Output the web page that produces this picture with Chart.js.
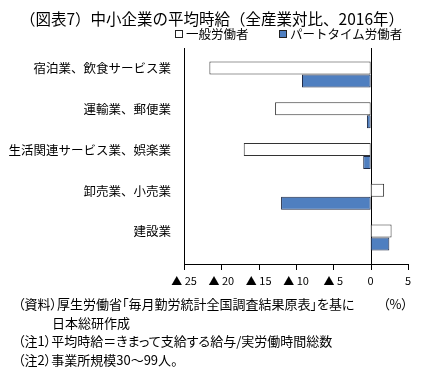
<!DOCTYPE html>
<html lang="ja">
<head>
<meta charset="utf-8">
<script src="https://cdn.jsdelivr.net/npm/chart.js@4/dist/chart.umd.min.js"></script>
<style>
  body { margin: 0; background: #fff; }
  #wrap { position: relative; width: 424px; height: 367px; font-family: 'Noto Sans CJK JP', sans-serif; color: #000; }
  #chart { position: absolute; left: 0; top: 0; }
  .title { position: absolute; left: 0; top: 7px; width: 424px; text-align: center; font-size: 15.5px; line-height: 22px; }
  .legend { position: absolute; top: 26px; font-size: 12.5px; line-height: 16px; white-space: nowrap; }
  .legend i { display: inline-block; width: 6px; height: 6px; border: 1px solid #222; margin-right: 3px; vertical-align: 1px; }
  .notes { position: absolute; left: 18px; top: 295px; font-size: 13px; line-height: 18.5px; white-space: nowrap; font-feature-settings: "palt"; }
  .unit { position: absolute; left: 383px; top: 295px; font-size: 13px; line-height: 18.5px; font-feature-settings: "palt"; }
</style>
</head>
<body>
<div id="wrap">
  <canvas id="chart" width="424" height="367"></canvas>
  <div class="title">（図表7）中小企業の平均時給（全産業対比、2016年）</div>
  <div class="legend" style="left:175px"><i style="background:#fff"></i>一般労働者</div>
  <div class="legend" style="left:279px"><i style="background:#4f7fc0"></i>パートタイム労働者</div>
  <div class="notes">
    <div>（資料）厚生労働省「毎月勤労統計全国調査結果原表」を基に</div>
    <div style="padding-left:34px">日本総研作成</div>
    <div>（注1）平均時給＝きまって支給する給与/実労働時間総数</div>
    <div>（注2）事業所規模30～99人。</div>
  </div>
  <div class="unit">（%）</div>
</div>
<script>
const categories = ['宿泊業、飲食サービス業', '運輸業、郵便業', '生活関連サービス業、娯楽業', '卸売業、小売業', '建設業']
const generalWorkers = [-21.6, -12.8, -17.0, 1.8, 2.8]
const partTimeWorkers = [-9.2, -0.5, -1.0, -12.0, 2.5]
const xTicks = [-25, -20, -15, -10, -5, 0, 5]

// bars sit on a linear index axis so the extra space above/below the groups can match
const toPoints = arr => arr.map((v, i) => ({ x: v, y: i }))

// axis lines, zero line and tick marks, placed from the scales (filled, not stroked)
const axisLines = {
  id: 'axisLines',
  beforeDatasetsDraw(chart) {
    const { ctx, chartArea: a, scales: { x } } = chart
    const h = a.bottom - a.top
    ctx.save()
    ctx.fillStyle = '#000'
    ctx.fillRect(Math.round(a.left), a.top, 1, h)
    ctx.fillRect(Math.round(x.getPixelForValue(0)), a.top, 1, h)
    ctx.fillRect(Math.round(a.left), Math.round(a.bottom), Math.round(a.right - a.left) + 1, 1)
    xTicks.forEach(v => {
      ctx.fillRect(Math.round(x.getPixelForValue(v)), Math.round(a.bottom), 1, 6)
    })
    ctx.restore()
  }
}

Chart.defaults.font.family = "'Noto Sans CJK JP', sans-serif"
Chart.defaults.color = '#000'

const ctx = document.querySelector('#chart')

new Chart(ctx, {
  type: 'bar',
  data: {
    datasets: [{
      data: toPoints(generalWorkers),
      backgroundColor: '#ffffff',
      borderColor: '#333333',
      borderWidth: 1,
      borderSkipped: false,
      categoryPercentage: 0.64,
      barPercentage: 1
    }, {
      data: toPoints(partTimeWorkers),
      backgroundColor: '#4f7fc0',
      borderColor: '#1f2a44',
      borderWidth: 1,
      borderSkipped: false,
      categoryPercentage: 0.64,
      barPercentage: 1
    }]
  },
  plugins: [axisLines],
  options: {
    indexAxis: 'y',
    responsive: false,
    animation: false,
    layout: { padding: { left: 0, right: 16, top: 48, bottom: 73 } },
    plugins: {
      legend: { display: false },
      tooltip: { enabled: false }
    },
    scales: {
      y: {
        type: 'linear',
        bounds: 'data',
        offset: false,
        reverse: true,
        min: -0.65,
        max: categories.length - 0.35,
        afterBuildTicks: s => { s.ticks = categories.map((c, i) => ({ value: i })) },
        afterFit: s => { s.width = 184 },
        grid: { display: false, drawTicks: false, offset: false },
        border: { display: false },
        ticks: {
          padding: 13,
          labelOffset: -6,
          font: { size: 12.5 },
          callback: v => categories[v]
        }
      },
      x: {
        type: 'linear',
        min: xTicks[0],
        max: xTicks[xTicks.length - 1],
        afterBuildTicks: s => { s.ticks = xTicks.map(v => ({ value: v })) },
        afterFit: s => { s.height = 30 },
        grid: { display: false, drawTicks: false },
        border: { display: false },
        ticks: {
          padding: 10,
          font: { size: 11 },
          callback: v => (v < 0 ? '▲ ' + (-v) : String(v))
        }
      }
    }
  }
})
</script>
</body>
</html>
